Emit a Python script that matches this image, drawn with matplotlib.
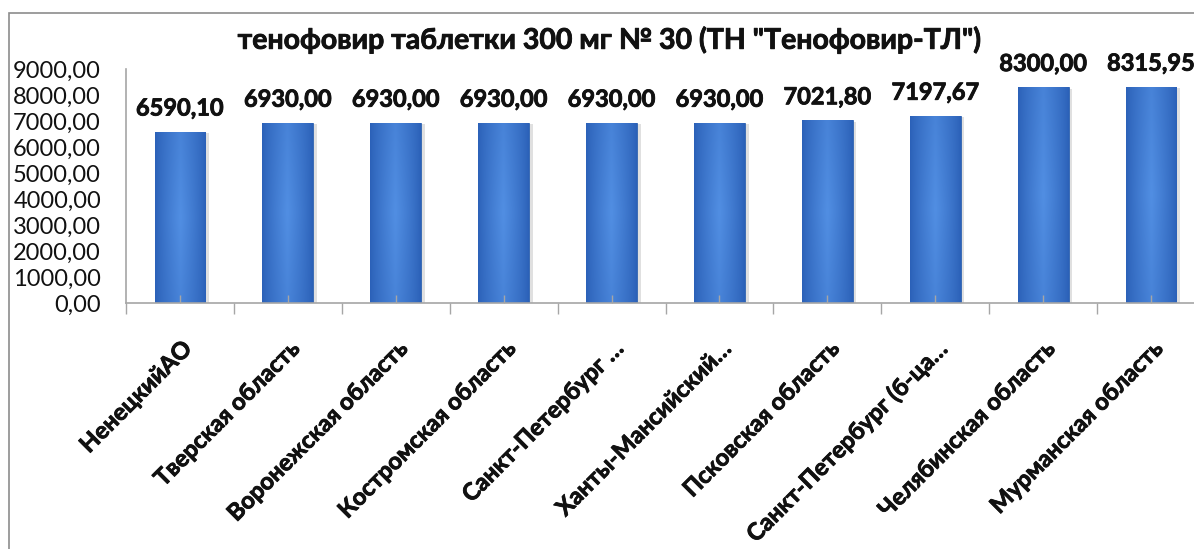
import numpy as np
import matplotlib
matplotlib.use("Agg")
import matplotlib.pyplot as plt
import matplotlib.patheffects as pe
from matplotlib.patches import Rectangle
from matplotlib.ticker import FixedLocator, FuncFormatter

plt.rcParams["font.family"] = ["Lato", "DejaVu Sans"]

title = 'тенофовир таблетки 300 мг № 30 (ТН "Тенофовир-ТЛ")'
regions = [
    "НенецкийАО",
    "Тверская область",
    "Воронежская область",
    "Костромская область",
    "Санкт-Петербург …",
    "Ханты-Мансийский…",
    "Псковская область",
    "Санкт-Петербург (б-ца…",
    "Челябинская область",
    "Мурманская область",
]
prices = [6590.10, 6930.00, 6930.00, 6930.00, 6930.00, 6930.00, 7021.80, 7197.67, 8300.00, 8315.95]
yticks = [0, 1000, 2000, 3000, 4000, 5000, 6000, 7000, 8000, 9000]

W, H = 1194, 549
fig = plt.figure(figsize=(W / 100, H / 100), dpi=100)
heavy = [pe.withStroke(linewidth=0.6, foreground="#111111")]

# outer chart frame (cut off at the right and bottom in the original)
fig.patches.append(Rectangle((9 / W, -0.1), 1.2, (H - 13) / H + 0.1,
                             transform=fig.transFigure, fill=False,
                             edgecolor="#8c8c8c", linewidth=1.2))

ax = fig.add_axes([126 / W, (H - 303) / H, 1079 / W, 234 / H])
x = np.arange(len(regions))
width = 0.47

# soft shadow
ax.bar(x + 0.035, prices, width=width, bottom=-60, color="#000000", alpha=0.12,
       linewidth=0, zorder=0.8)
bars = ax.bar(x, prices, width=width, color="#3a74c9", edgecolor="#2f63b0",
              linewidth=0.6, zorder=1)

# gradient fill inside each bar (darker at edges, lighter in the middle)
gx = np.linspace(0, 1, 64)
gy = np.linspace(0, 1, 64)
px = 1 - np.abs(gx - 0.5) * 2
py = 1 - np.abs(gy - 0.5) * 2
prof = (px[None, :] ** 0.8) * (0.75 + 0.25 * py[:, None])
c_edge = np.array([0.17, 0.38, 0.72])
c_mid = np.array([0.32, 0.56, 0.89])
img = c_edge[None, None, :] + (c_mid - c_edge)[None, None, :] * prof[:, :, None]
for b in bars:
    x0, w, h = b.get_x(), b.get_width(), b.get_height()
    im = ax.imshow(img, extent=(x0, x0 + w, 0, h), aspect="auto", zorder=1.1,
                   interpolation="bicubic")
    im.set_clip_path(b)

for xi, v in zip(x, prices):
    ax.annotate(f"{v:.2f}".replace(".", ","), (xi, v), xytext=(0, 17),
                textcoords="offset points", ha="center", va="center",
                fontsize=17, fontweight="bold", color="#111111", path_effects=heavy)

ax.set_xlim(-0.5, len(regions) - 0.5)
ax.set_ylim(0, 9000)
ax.set_yticks(yticks)
ax.yaxis.set_major_formatter(FuncFormatter(lambda v, p: f"{v:.2f}".replace(".", ",")))
ax.tick_params(axis="y", length=0, pad=18, labelsize=17, labelcolor="#111111")

ax.xaxis.set_major_locator(FixedLocator(np.arange(len(regions) + 1) - 0.5))
ax.xaxis.set_minor_locator(FixedLocator(x))
ax.xaxis.set_major_formatter(FuncFormatter(lambda v, p: ""))
ax.set_xticks(x, regions, minor=True)
ax.tick_params(axis="x", which="major", direction="out", length=8, width=1, color="#a6a6a6")
ax.tick_params(axis="x", which="minor", direction="in", length=6, width=1, color="#a6a6a6",
               pad=24, labelsize=17)
for lab in ax.get_xticklabels(minor=True):
    lab.set_rotation(45)
    lab.set_ha("right")
    lab.set_va("top")
    lab.set_rotation_mode("anchor")
    lab.set_fontweight("bold")
    lab.set_color("#111111")
    lab.set_path_effects(heavy)

for s in ["top", "right"]:
    ax.spines[s].set_visible(False)
ax.spines["left"].set_color("#a6a6a6")
ax.spines["bottom"].set_color("#a6a6a6")
ax.spines["left"].set_linewidth(1.2)
ax.spines["bottom"].set_linewidth(1.2)

fig.text(610 / W, (H - 40) / H, title, ha="center", va="center",
         fontsize=20.5, fontweight="bold", color="#111111", path_effects=heavy)

fig.savefig("out.png", dpi=100)
